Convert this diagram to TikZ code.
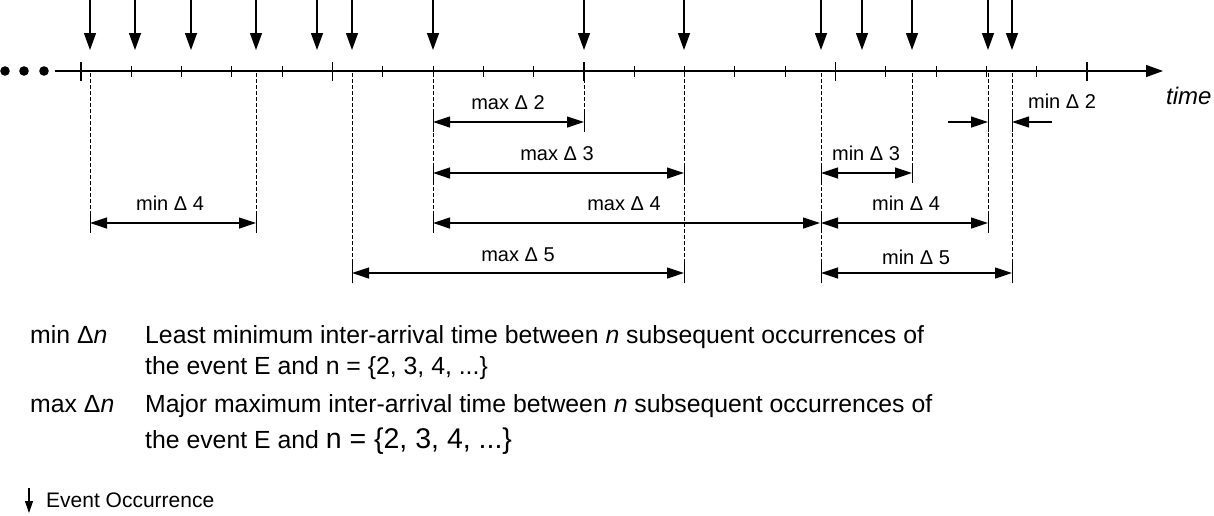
\documentclass[tikz,border=0pt]{standalone}
\usepackage{fontspec}
\setmainfont{Liberation Sans}
\usetikzlibrary{arrows.meta}
\begin{document}
\begin{tikzpicture}[x=1pt,y=-1pt,
  axisline/.style={line width=1.3pt,-{Triangle[length=17pt,width=12pt]}},
  evarrow/.style={line width=1.3pt,-{Triangle[length=17pt,width=12pt]}},
  dimarrow/.style={line width=1.2pt,{Triangle[length=17pt,width=11pt]}-{Triangle[length=17pt,width=11pt]}},
  halfarrow/.style={line width=1.2pt,-{Triangle[length=17pt,width=11pt]}},
  extline/.style={line width=1pt,dash pattern=on 3.5pt off 2.5pt},
  endbar/.style={line width=1pt},
  tickmark/.style={line width=1.1pt},
  lbl/.style={font=\fontsize{20}{24}\selectfont,anchor=base,inner sep=0pt},
  legend/.style={font=\fontsize{24.8}{29}\selectfont,anchor=base west,inner sep=0pt},
]
\useasboundingbox (0,0) rectangle (1214,515);
% leading dots
\foreach \x in {5,24,44} \fill (\x,71) circle (4.8pt);
% time axis
\coordinate (a0) at (55,71);
\coordinate (a1) at (1163,71);
\draw[axisline] (a0) -- (a1);
\node[font=\fontsize{24}{28}\selectfont\itshape,anchor=base west,inner sep=0pt] (timelbl) at (1166,104) {time};
% ticks
\foreach \k [evaluate=\k as \tx using 81+50.3*\k] in {0,...,20}
  \draw[tickmark] (\tx,66) -- (\tx,77);
\foreach \k [evaluate=\k as \tx using 81+50.3*\k] in {0,5,10,15,20}
  \draw[tickmark] (\tx,62) -- (\tx,81);
% events
\foreach \x [count=\i] in {90,135,191,256,317,352,433,584,684,821,862,912,988,1012} {
  \coordinate (t\i) at (\x,0);
  \coordinate (h\i) at (\x,50);
  \coordinate (e\i) at (\x,73);
  \draw[evarrow] (t\i) -- (h\i);
}
% rows
\coordinate (r2) at (0,122);
\coordinate (r3) at (0,173);
\coordinate (r4) at (0,223);
\coordinate (r5) at (0,273);
% extension lines
\foreach \i/\b in {1/232,4/232,6/283,7/232,8/132,9/283,10/283,12/182,13/232,14/283} {
  \coordinate (d\i) at (e\i |- 0,\b);
  \draw[extline] (e\i) -- (d\i);
}
% end bars
\foreach \i/\y in {7/122,8/122,13/122,14/122,7/173,9/173,10/173,12/173,1/223,4/223,7/223,10/223,13/223,6/273,9/273,10/273,14/273}
  \draw[endbar] (e\i |- 0,\y-10) -- (e\i |- 0,\y+10);
% dimension arrows
\draw[dimarrow] (e7 |- r2) -- (e8 |- r2);
\node[lbl] (lmax2) at (508,109) {max Δ 2};
\coordinate (m2a) at (948,122);
\coordinate (m2b) at (1052,122);
\draw[halfarrow] (m2a) -- (e13 |- r2);
\draw[halfarrow] (m2b) -- (e14 |- r2);
\node[lbl] (lmin2) at (1062,108) {min Δ 2};

\draw[dimarrow] (e7 |- r3) -- (e9 |- r3);
\node[lbl] (lmax3) at (557,160) {max Δ 3};
\draw[dimarrow] (e10 |- r3) -- (e12 |- r3);
\node[lbl] (lmin3) at (866,160) {min Δ 3};

\draw[dimarrow] (e1 |- r4) -- (e4 |- r4);
\node[lbl] (lmin4a) at (170,210) {min Δ 4};
\coordinate (m4end) at (820,223);
\draw[dimarrow] (e7 |- r4) -- (m4end);
\node[lbl] (lmax4) at (624,210) {max Δ 4};
\draw[dimarrow] (e10 |- r4) -- (e13 |- r4);
\node[lbl] (lmin4b) at (906,210) {min Δ 4};

\draw[dimarrow] (e6 |- r5) -- (e9 |- r5);
\node[lbl] (lmax5) at (518,261) {max Δ 5};
\draw[dimarrow] (e10 |- r5) -- (e14 |- r5);
\node[lbl] (lmin5) at (916,264) {min Δ 5};

% legend
\node[legend] (k1) at (30,343) {min Δ\textit{n}};
\node[legend] (v1) at (145,343) {Least minimum inter-arrival time between \textit{n} subsequent occurrences of};
\node[legend] (v1b) at (145,374) {the event E and n = \{2, 3, 4, ...\}};
\node[legend] (k2) at (30,412) {max Δ\textit{n}};
\node[legend] (v2) at (145,412) {Major maximum inter-arrival time between \textit{n} subsequent occurrences of};
\node[legend] (v2b) at (145,448) {the event E and {\fontsize{28.5}{32}\selectfont n = \{2, 3, 4, ...\}}};
\coordinate (la) at (29,488);
\coordinate (lb) at (29,513);
\draw[line width=1.2pt,-{Triangle[length=12pt,width=8pt]}] (la) -- (lb);
\node[font=\fontsize{21}{24}\selectfont,anchor=base west,inner sep=0pt] (evlbl) at (46,507) {Event Occurrence};
\end{tikzpicture}
\end{document}
